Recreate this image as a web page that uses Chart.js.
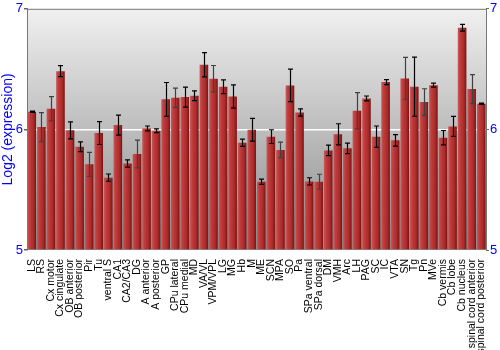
<!DOCTYPE html>
<html>
<head>
<meta charset="utf-8">
<script src="https://cdn.jsdelivr.net/npm/chart.js@4.4.0/dist/chart.umd.min.js"></script>
<style>
  html, body { margin: 0; padding: 0; background: #fff; }
  #wrap { width: 500px; height: 350px; }
</style>
</head>
<body>
<div id="wrap"><canvas id="myChart" width="500" height="350"></canvas></div>
<script>
// regions (x categories)
var regions = ["LS", "RS", "Cx motor", "Cx cingulate", "OB anterior", "OB posterior", "Pir", "Tu",
  "ventral S", "CA1", "CA2/CA3", "DG", "A anterior", "A posterior", "GP", "CPu lateral", "CPu medial",
  "MD", "VA/VL", "VPM/VPL", "LG", "MG", "Hb", "M", "ME", "SCN", "MPA", "SO", "Pa", "SPa ventral",
  "SPa dorsal", "DM", "VMH", "Arc", "LH", "PAG", "SC", "IC", "VTA", "SN", "Tg", "Pn", "MVe",
  "Cb vermis", "Cb lobe", "Cb nucleus", "spinal cord anterior", "spinal cord posterior"];

// log2 expression
var expression = [6.146, 6.019, 6.171, 6.483, 5.992, 5.856, 5.71, 5.97, 5.60, 6.036, 5.718, 5.796,
  6.008, 5.989, 6.249, 6.262, 6.268, 6.279, 6.536, 6.42, 6.354, 6.273, 5.89, 5.997, 5.566, 5.94,
  5.83, 6.365, 6.14, 5.569, 5.566, 5.826, 5.959, 5.843, 6.155, 6.257, 5.94, 6.392, 5.909, 6.423,
  6.354, 6.227, 6.367, 5.931, 6.025, 6.843, 6.334, 6.213];

// error (+/-)
var errors = [0.005, 0.12, 0.10, 0.045, 0.07, 0.04, 0.10, 0.095, 0.03, 0.083, 0.03, 0.115, 0.02,
  0.015, 0.14, 0.08, 0.083, 0.04, 0.10, 0.11, 0.057, 0.097, 0.03, 0.094, 0.022, 0.057, 0.065, 0.135,
  0.03, 0.03, 0.062, 0.044, 0.088, 0.044, 0.15, 0.02, 0.088, 0.02, 0.047, 0.175, 0.245, 0.11, 0.017,
  0.06, 0.083, 0.028, 0.12, 0.005];

var yTicks = [5, 6, 7];

// error bars drawn lighter
var greyErr = [1, 2, 6, 11, 15, 19, 26, 30, 34, 39, 41, 46];

var blue = "#0000ff";

function barFill(ctx) {
  var chart = ctx.chart;
  if (!chart.chartArea || !chart.scales.x) return "#b03030";
  var xs = chart.scales.x;
  var cx = xs.getPixelForValue(ctx.dataIndex);
  var w = xs.width / regions.length * 0.9;
  var g = chart.ctx.createLinearGradient(cx - w / 2, 0, cx + w / 2, 0);
  g.addColorStop(0, "#c65a5a");
  g.addColorStop(0.25, "#c23c3c");
  g.addColorStop(0.7, "#aa2a2a");
  g.addColorStop(1, "#741414");
  return g;
}

var plotBg = {
  id: "plotBg",
  beforeDraw: function (chart) {
    var a = chart.chartArea, c = chart.ctx;
    var g = c.createLinearGradient(0, a.top, 0, a.bottom);
    g.addColorStop(0, "#f0f0f0");
    g.addColorStop(1, "#8a8a8a");
    c.save();
    c.fillStyle = g;
    c.fillRect(a.left, a.top, a.right - a.left, a.bottom - a.top);
    c.restore();
  },
  afterDraw: function (chart) {
    var a = chart.chartArea, c = chart.ctx;
    c.save();
    c.strokeStyle = "#777";
    c.lineWidth = 1;
    c.beginPath();
    c.moveTo(a.left, a.top + 0.5);
    c.lineTo(a.right, a.top + 0.5);
    c.stroke();
    c.restore();
  }
};

var errorBars = {
  id: "errorBars",
  afterDatasetsDraw: function (chart) {
    var c = chart.ctx, ys = chart.scales.y;
    var meta = chart.getDatasetMeta(0);
    c.save();
    c.lineWidth = 1.2;
    meta.data.forEach(function (bar, i) {
      var x = Math.round(bar.x) + 0.5;
      var yHi = ys.getPixelForValue(expression[i] + errors[i]);
      var yLo = ys.getPixelForValue(expression[i] - errors[i]);
      c.strokeStyle = greyErr.indexOf(i) >= 0 ? "#404040" : "#000";
      c.beginPath();
      c.moveTo(x, yHi); c.lineTo(x, yLo);
      c.moveTo(x - 2.5, yHi); c.lineTo(x + 2.5, yHi);
      c.moveTo(x - 2.5, yLo); c.lineTo(x + 2.5, yLo);
      c.stroke();
    });
    c.restore();
  }
};

var ctx = document.getElementById("myChart").getContext("2d");
var chart = new Chart(ctx, {
  type: "bar",
  data: {
    labels: regions,
    datasets: [
      {
        data: expression,
        base: 5,
        backgroundColor: barFill,
        borderWidth: 0,
        barPercentage: 0.9,
        categoryPercentage: 1.0,
      },
    ],
  },
  options: {
    responsive: false,
    animation: false,
    layout: { padding: { top: 3, bottom: 0, left: 0, right: 0 } },
    plugins: { legend: { display: false }, tooltip: { enabled: false } },
    scales: {
      x: {
        grid: { display: false },
        border: { display: false },
        ticks: {
          autoSkip: false,
          maxRotation: 90,
          minRotation: 90,
          padding: 1,
          color: "#000",
          font: { family: "Liberation Sans", size: 10.5 },
        },
        afterFit: function (s) { s.height = 100; },
      },
      y: {
        position: "left",
        min: 5,
        max: 7,
        afterBuildTicks: function (s) { s.ticks = yTicks.map(function (v) { return { value: v }; }); },
        grid: {
          color: function (c) { return c.tick && c.tick.value === 6 ? "#ffffff" : "rgba(0,0,0,0)"; },
          tickColor: "#666",
          tickLength: 3,
          lineWidth: 1.5,
        },
        border: { color: "#777" },
        ticks: { color: blue, padding: 1, font: { family: "Liberation Sans", size: 13 } },
        title: {
          display: true,
          text: "Log2 (expression)",
          color: blue,
          padding: 0,
          font: { family: "Liberation Sans", size: 14 },
        },
        afterFit: function (s) { s.width = 27; },
      },
      y2: {
        position: "right",
        min: 5,
        max: 7,
        afterBuildTicks: function (s) { s.ticks = yTicks.map(function (v) { return { value: v }; }); },
        grid: { drawOnChartArea: false, tickColor: "#666", tickLength: 3 },
        border: { color: "#777" },
        ticks: { color: blue, padding: 1, font: { family: "Liberation Sans", size: 13 } },
        afterFit: function (s) { s.width = 14; },
      },
    },
  },
  plugins: [plotBg, errorBars],
});
</script>
</body>
</html>
